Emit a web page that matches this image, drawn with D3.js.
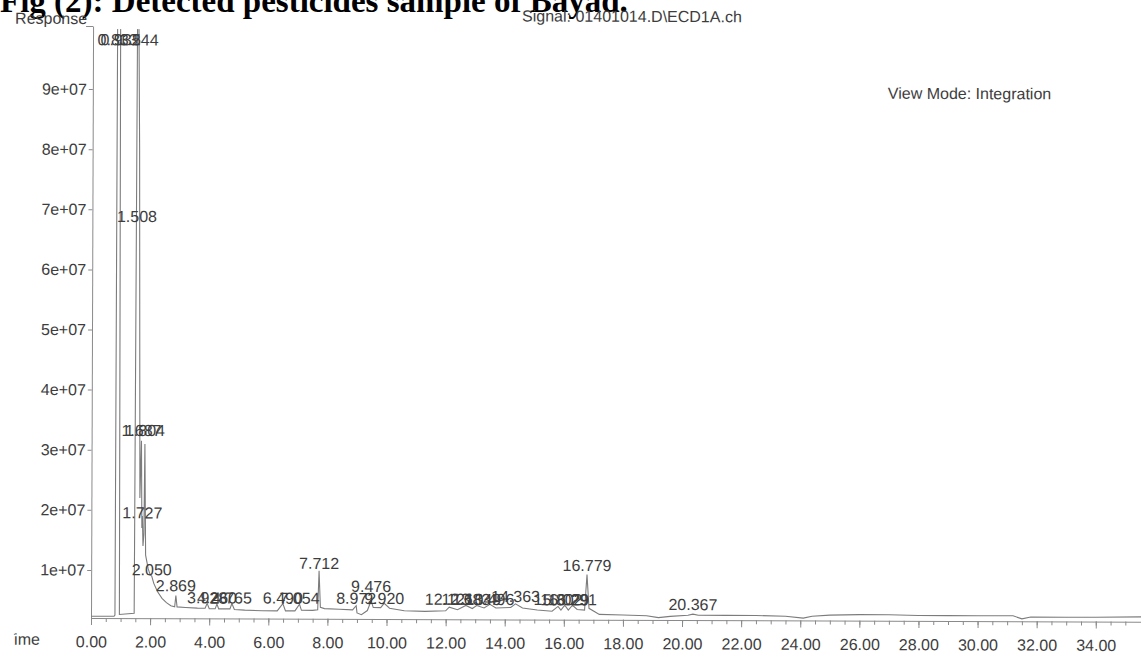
<!DOCTYPE html>
<html>
<head>
<meta charset="utf-8">
<script src="https://cdn.jsdelivr.net/npm/d3@7"></script>
<style>
  html, body { margin: 0; padding: 0; background: #fff; }
  svg { display: block; }
</style>
</head>
<body>
<svg id="chart" width="1141" height="656"></svg>
<script>
// Integrated peaks: retention time (min) as printed on the trace
const peakTimes   = [0.833, 0.932, 1.508, 1.544, 1.687, 1.727, 1.804, 2.050, 2.869,
                     3.928, 4.260, 4.765, 6.490, 7.054, 7.712, 8.972, 9.476, 9.920,
                     12.121, 12.683, 13.049, 13.496, 14.363, 15.802, 16.029, 16.291,
                     16.779, 20.367];
// Apex response of each peak (values above the axis top are off-scale)
const peakHeights = [1.06e8, 1.06e8, 1.06e8, 1.06e8, 3.15e7, 1.9e7, 3.1e7, 9.0e6, 5.8e6,
                     4.5e6, 4.4e6, 4.5e6, 4.5e6, 4.4e6, 1.0e7, 4.2e6, 5.0e6, 4.6e6,
                     4.0e6, 4.3e6, 4.3e6, 4.5e6, 4.6e6, 4.2e6, 4.4e6, 4.4e6,
                     9.5e6, 3.0e6];
// Response level of each label's baseline
const labelLevels = [9.73e7, 9.73e7, 6.79e7, 9.73e7, 3.23e7, 1.86e7, 3.23e7, 9.15e6, 6.5e6,
                     4.5e6, 4.5e6, 4.5e6, 4.5e6, 4.5e6, 1.03e7, 4.5e6, 6.5e6, 4.5e6,
                     4.4e6, 4.4e6, 4.4e6, 4.4e6, 4.9e6, 4.4e6, 4.4e6, 4.4e6,
                     1.01e7, 3.66e6];

// Detector signal between the peaks
const baselineTimes  = [0.00, 0.78, 0.81, 0.96, 1.46, 1.59, 1.64, 1.71, 1.75, 1.78,
                        1.84, 1.93, 2.00, 2.12, 2.25, 2.40, 2.55, 2.70, 2.83, 2.91, 3.20,
                        3.60, 3.86, 4.00, 4.20, 4.32, 4.70, 4.85, 5.20, 5.80, 6.30, 6.58,
                        6.90, 7.12, 7.50, 7.67, 7.76, 7.90, 8.40, 8.85, 9.00, 9.15, 9.35,
                        9.55, 9.80, 10.10, 10.60, 11.30, 12.00, 12.40, 12.90, 13.30, 13.70,
                        14.20, 14.60, 15.10, 15.60, 15.90, 16.15, 16.45, 16.70, 16.85,
                        17.20, 18.00, 18.80, 19.20, 19.60, 20.20, 20.55, 21.50, 22.50,
                        23.50, 24.10, 24.40, 25.00, 26.00, 27.00, 28.00, 29.00, 30.00,
                        31.20, 31.50, 31.80, 33.00, 34.00, 35.53];
const baselineValues = [2.3e6, 2.3e6, 2.5e6, 2.6e6, 2.8e6, 8.0e7, 2.2e7, 1.7e7, 1.4e7, 1.6e7,
                        1.25e7, 1.02e7, 9.2e6, 7.8e6, 6.4e6, 5.3e6, 4.6e6, 4.1e6, 3.9e6, 3.9e6, 3.8e6,
                        3.7e6, 3.7e6, 3.6e6, 3.6e6, 3.6e6, 3.6e6, 3.5e6, 3.4e6, 3.3e6, 3.3e6, 3.3e6,
                        3.3e6, 3.4e6, 3.4e6, 3.5e6, 3.9e6, 3.7e6, 3.6e6, 3.5e6, 3.0e6, 2.7e6, 3.4e6,
                        3.9e6, 3.9e6, 3.8e6, 3.4e6, 3.3e6, 3.4e6, 3.6e6, 3.8e6, 3.9e6, 3.9e6,
                        4.0e6, 3.9e6, 3.6e6, 3.4e6, 3.6e6, 3.6e6, 3.7e6, 3.6e6, 3.9e6,
                        2.9e6, 2.8e6, 2.7e6, 2.4e6, 2.6e6, 2.8e6, 2.8e6, 2.8e6, 2.8e6,
                        2.7e6, 2.4e6, 2.7e6, 2.9e6, 3.0e6, 3.0e6, 2.9e6, 2.9e6, 2.9e6,
                        2.9e6, 2.4e6, 2.7e6, 2.7e6, 2.7e6, 2.8e6];

// Axis ticks
const xTicks      = [0, 2, 4, 6, 8, 10, 12, 14, 16, 18, 20, 22, 24, 26, 28, 30, 32, 34];
const xTickLabels = ["0.00", "2.00", "4.00", "6.00", "8.00", "10.00", "12.00", "14.00", "16.00",
                     "18.00", "20.00", "22.00", "24.00", "26.00", "28.00", "30.00", "32.00", "34.00"];
const yTicks      = [1e7, 2e7, 3e7, 4e7, 5e7, 6e7, 7e7, 8e7, 9e7];
const yTickLabels = ["1e+07", "2e+07", "3e+07", "4e+07", "5e+07", "6e+07", "7e+07", "8e+07", "9e+07"];

const TEXT = "#3d3d3d", AXIS = "#8a8a8a", TRACE = "#7c7c7c";
const FONT = "'Liberation Sans', Arial, sans-serif";

const svg = d3.select("#chart");

// Caption line above the plot
svg.append("text")
  .attr("x", 0).attr("y", 12)
  .attr("font-family", "'Liberation Serif', 'Times New Roman', serif")
  .attr("font-weight", "bold").attr("font-size", 33).attr("fill", "#000")
  .text("Fig (2): Detected pesticides sample of Bayad.");

const x = d3.scaleLinear().domain([0, 35.53]).range([91, 1141]);
const y = d3.scaleLinear().domain([2.0e6, 1.005e8]).range([618, 26]);

// Whole plot sits very slightly rotated on the page
const g = svg.append("g").attr("transform", "rotate(0.2, 91, 618)");

// Header texts
g.append("text").attr("x", 13).attr("y", 24)
  .attr("font-family", FONT).attr("font-size", 16).attr("fill", TEXT)
  .text("Response");
g.append("text").attr("x", 520).attr("y", 20)
  .attr("font-family", FONT).attr("font-size", 16).attr("fill", TEXT)
  .text("Signal: 01401014.D\\ECD1A.ch");
g.append("text").attr("x", 886).attr("y", 96)
  .attr("font-family", FONT).attr("font-size", 16).attr("fill", TEXT)
  .text("View Mode: Integration");

// Y axis
g.append("g").attr("transform", `translate(${x(0)},0)`)
  .call(d3.axisLeft(y).tickValues(yTicks).tickFormat((d, i) => yTickLabels[i])
        .tickSize(4).tickSizeOuter(0).tickPadding(2));
g.append("g").attr("transform", `translate(${x(0)},0)`)
  .call(d3.axisLeft(y).tickValues([y.domain()[1]]).tickFormat("").tickSize(7).tickSizeOuter(0))
  .select(".domain").remove();

// X axis: labelled ticks every 2 min, minor ticks every 0.5 min
g.append("g").attr("transform", `translate(0,${y.range()[0]})`)
  .call(d3.axisBottom(x).tickValues(xTicks).tickFormat((d, i) => xTickLabels[i])
        .tickSize(7).tickSizeOuter(0).tickPadding(11));
g.append("g").attr("transform", `translate(0,${y.range()[0]})`)
  .call(d3.axisBottom(x).tickValues(d3.range(0, 35.5, 0.5)).tickFormat("").tickSize(4).tickSizeOuter(0))
  .select(".domain").remove();

g.selectAll(".domain, .tick line").attr("stroke", AXIS).attr("stroke-width", 1);
g.selectAll(".tick text").attr("font-family", FONT).attr("font-size", 16).attr("fill", TEXT);

// Axis title; its first letter falls off the left edge
const defs = svg.append("defs");
defs.append("clipPath").attr("id", "leftEdge")
  .append("rect").attr("x", 14).attr("y", 0).attr("width", 1141).attr("height", 656);
g.append("text").attr("x", 40).attr("y", 645).attr("text-anchor", "end")
  .attr("clip-path", "url(#leftEdge)")
  .attr("font-family", FONT).attr("font-size", 16).attr("fill", TEXT)
  .text("Time");

// Signal trace: baseline points merged with the peak apexes
const trace = baselineTimes.map((t, i) => [t, baselineValues[i]])
  .concat(peakTimes.map((t, i) => [t, peakHeights[i]]))
  .sort((a, b) => a[0] - b[0]);

defs.append("clipPath").attr("id", "plotArea")
  .append("rect").attr("x", x(0)).attr("y", 29).attr("width", 1141).attr("height", 600);

g.append("path")
  .datum(trace)
  .attr("clip-path", "url(#plotArea)")
  .attr("fill", "none").attr("stroke", TRACE).attr("stroke-width", 1.1)
  .attr("d", d3.line().x(d => x(d[0])).y(d => y(d[1])));

// Retention-time labels above each peak
g.append("g").selectAll("text")
  .data(peakTimes)
  .join("text")
  .attr("x", d => x(d))
  .attr("y", (d, i) => y(labelLevels[i]))
  .attr("text-anchor", "middle")
  .attr("font-family", FONT).attr("font-size", 16).attr("fill", TEXT)
  .text(d => d.toFixed(3));
</script>
</body>
</html>
